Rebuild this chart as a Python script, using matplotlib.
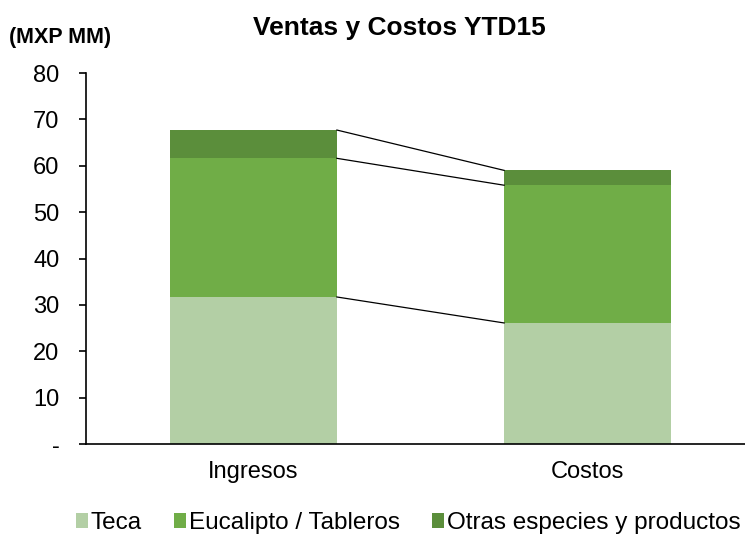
import matplotlib
matplotlib.use("Agg")
import matplotlib.pyplot as plt
from matplotlib.patches import Patch
from matplotlib.ticker import FuncFormatter

plt.rcParams['font.family'] = ['Liberation Sans', 'DejaVu Sans']

categories = ["Ingresos", "Costos"]
series_names = ["Teca", "Eucalipto / Tableros", "Otras especies y productos"]
teca = [31.7, 26.1]
eucalipto = [29.9, 29.7]
otras = [6.1, 3.2]
colors = ["#B3CFA5", "#70AD47", "#5B8E3B"]
yticks = [0, 10, 20, 30, 40, 50, 60, 70, 80]

fig = plt.figure(figsize=(7.45, 5.35), dpi=100)
ax = fig.add_axes([86/745, 91/535, (745-86)/745, (444-73)/535])

x = list(range(len(categories)))
width = 0.5
bottoms = [0.0] * len(categories)
tops_all = []
for vals, col, name in zip([teca, eucalipto, otras], colors, series_names):
    ax.bar(x, vals, width, bottom=bottoms, color=col, label=name, zorder=2)
    bottoms = [b + v for b, v in zip(bottoms, vals)]
    tops_all.append(list(bottoms))

# connector lines
for tops in tops_all:
    ax.plot([x[0] + width / 2, x[1] - width / 2], [tops[0], tops[1]],
            color="black", lw=0.9, zorder=3)

ax.set_ylim(0, 80)
ax.set_xlim(-0.5, 1.47)
ax.set_yticks(yticks)
ax.yaxis.set_major_formatter(FuncFormatter(lambda v, p: "-" if v == 0 else f"{int(v)}"))
ax.set_xticks(x)
ax.set_xticklabels(categories)
ax.tick_params(axis='y', labelsize=17, length=5, width=1.2, direction='out', pad=14)
ax.tick_params(axis='x', labelsize=17, length=0, pad=12)
for s in ["top", "right"]:
    ax.spines[s].set_visible(False)
ax.spines["left"].set_linewidth(1.2)
ax.spines["bottom"].set_linewidth(1.2)

fig.text(399/745, 1 - 28/535, "Ventas y Costos YTD15", ha="center", va="center",
         fontsize=19, fontweight="bold")
fig.text(9/745, 1 - 38/535, "(MXP MM)", ha="left", va="center",
         fontsize=15.5, fontweight="bold")

handles = [Patch(facecolor=c, label=n) for c, n in zip(colors, series_names)]
fig.legend(handles=handles, loc="center", bbox_to_anchor=(408/745, 1 - 523/535),
           ncol=3, frameon=False, fontsize=17.5, handlelength=0.53, handleheight=0.53,
           handletextpad=0.1, columnspacing=1.3, borderaxespad=0, borderpad=0)

fig.savefig("out.png", dpi=100)
